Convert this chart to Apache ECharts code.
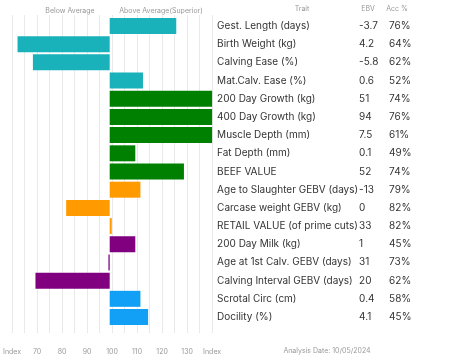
<!DOCTYPE html>
<html>
<head>
<meta charset="utf-8">
<script src="https://cdn.jsdelivr.net/npm/echarts@6/dist/echarts.min.js"></script>
<style>html,body{margin:0;padding:0;background:#fff}#c{width:453px;height:362px}</style>
</head>
<body>
<div id="c"></div>
<script>
const traits = ["Gest. Length (days)","Birth Weight (kg)","Calving Ease (%)","Mat.Calv. Ease (%)","200 Day Growth (kg)","400 Day Growth (kg)","Muscle Depth (mm)","Fat Depth (mm)","BEEF VALUE","Age to Slaughter GEBV (days)","Carcase weight GEBV (kg)","RETAIL VALUE (of prime cuts)","200 Day Milk (kg)","Age at 1st Calv. GEBV (days)","Calving Interval GEBV (days)","Scrotal Circ (cm)","Docility (%)"];
const ebv = ["-3.7","4.2","-5.8","0.6","51","94","7.5","0.1","52","-13","0","33","1","31","20","0.4","4.1"];
const acc = ["76%","64%","62%","52%","74%","76%","61%","49%","74%","79%","82%","82%","45%","73%","62%","58%","45%"];
const indexValues = [126,64,70,113,140,140,140,110,129,112,83,100.8,110,99.5,71,112,115];
const groupOf = [0,0,0,0,1,1,1,1,1,2,2,2,3,3,3,4,4];
const groupColors = ["#19b2ba","#008000","#ff9a00","#800080","#129ff6"];
const tickLabels = {"-40":"Index","-30":"70","-20":"80","-10":"90","0":"100","10":"110","20":"120","30":"130","40":"Index"};

const FONT = "Inter";
const chart = echarts.init(document.getElementById('c'));
const gridLeft = 7.3, gridRight = 453 - 212.1;
chart.setOption({
  animation:false,
  grid:[
    {left:gridLeft,right:gridRight,top:15,bottom:29},
    {left:gridLeft,right:gridRight,top:16.9,bottom:362-326.1}
  ],
  xAxis:[
    {gridIndex:0,type:'value',min:-40,max:40,interval:5,
     axisLine:{show:false},axisTick:{show:false},
     splitLine:{show:true,lineStyle:{color:'#e9e9e9',width:1}},
     axisLabel:{margin:15,fontFamily:FONT,fontSize:7,color:'#999',
       formatter:v=>tickLabels[String(v)]||''}},
    {gridIndex:1,type:'value',min:-40,max:40,show:false}
  ],
  yAxis:[
    {gridIndex:0,type:'category',data:[''],show:false},
    {gridIndex:1,type:'category',data:traits,inverse:true,position:'right',
     axisLine:{show:false},axisTick:{show:false},splitLine:{show:false},
     axisLabel:{margin:5,align:'left',
       formatter:(v,i)=>'{t|'+v+'}{e|'+ebv[i]+'}{a|'+acc[i]+'}',
       rich:{
         t:{width:142,fontFamily:FONT,fontSize:10,color:'#333'},
         e:{width:30,fontFamily:FONT,fontSize:10,color:'#333'},
         a:{fontFamily:FONT,fontSize:10,color:'#333'}
       }}}
  ],
  series:[{
    type:'bar',xAxisIndex:1,yAxisIndex:1,barWidth:16,
    data:indexValues.map((v,i)=>({value:v-100,itemStyle:{color:groupColors[groupOf[i]]}}))
  }],
  graphic:[
    {type:'text',left:70,top:11,style:{text:'Below Average',fontFamily:FONT,fontSize:7,fill:'#999',align:'center',verticalAlign:'middle'},x:70,y:11,left:null,top:null},
    {type:'text',x:161,y:11,style:{text:'Above Average(Superior)',fontFamily:FONT,fontSize:7,fill:'#999',align:'center',verticalAlign:'middle'}},
    {type:'text',x:302,y:9,style:{text:'Trait',fontFamily:FONT,fontSize:7,fill:'#999',align:'center',verticalAlign:'middle'}},
    {type:'text',x:368,y:9,style:{text:'EBV',fontFamily:FONT,fontSize:7,fill:'#999',align:'center',verticalAlign:'middle'}},
    {type:'text',x:397,y:9,style:{text:'Acc %',fontFamily:FONT,fontSize:7,fill:'#999',align:'center',verticalAlign:'middle'}},
    {type:'text',x:327,y:351,style:{text:'Analysis Date: 10/05/2024',fontFamily:FONT,fontSize:7,fill:'#999',align:'center',verticalAlign:'middle'}}
  ]
});
</script>
</body>
</html>
